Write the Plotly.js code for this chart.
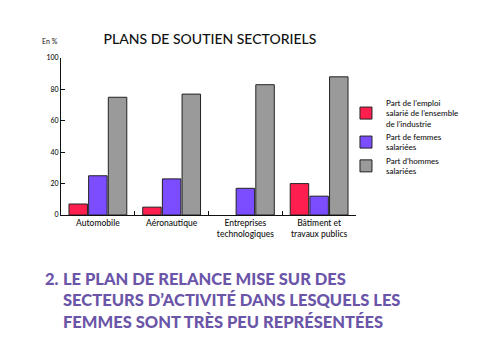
<!DOCTYPE html>
<html>
<head>
<meta charset="utf-8">
<script src="https://cdn.plot.ly/plotly-3.0.1.min.js"></script>
<style>html,body{margin:0;padding:0;background:#fff;}#chart{width:500px;height:345px;}</style>
</head>
<body>
<div id="chart"></div>
<script>
var categories = ["Automobile", "Aéronautique", "Entreprises<br>technologiques", "Bâtiment et<br>travaux publics"];
var seriesNames = ["Part de l’emploi<br>salarié de l’ensemble<br>de l’industrie", "Part de femmes<br>salariées", "Part d’hommes<br>salariées"];
var emploiIndustrie = [7, 5, null, 20];
var femmes = [25, 23, 17, 12];
var hommes = [75, 77, 83, 88];
var yTicks = [0, 20, 40, 60, 80, 100];
var colors = ["#ff1f4f", "#7b4dff", "#9a9a9a"];

var values = [emploiIndustrie, femmes, hommes];
var traces = values.map(function (v, i) {
  return {
    type: "bar",
    x: categories,
    y: v,
    name: seriesNames[i],
    marker: { color: colors[i], line: { color: "#222", width: 1 } },
    hoverinfo: "skip"
  };
});

var layout = {
  width: 500,
  height: 345,
  margin: { l: 61, r: 144, t: 58, b: 130 },
  paper_bgcolor: "#fff",
  plot_bgcolor: "#fff",
  barmode: "group",
  bargap: 0.2,
  bargroupgap: 0.06,
  font: { family: "Lato, 'Open Sans', sans-serif", color: "#111" },
  title: {
    text: "PLANS DE SOUTIEN SECTORIELS",
    font: { family: "Lato, sans-serif", size: 14, color: "#111", weight: 500 },
    x: 0.42, xanchor: "center", y: 0.888, yanchor: "middle"
  },
  xaxis: {
    showgrid: false, zeroline: false,
    showline: true, linecolor: "#111", linewidth: 1,
    ticks: "inside", tickson: "boundaries", ticklen: 4, tickcolor: "#111",
    tickfont: { size: 8.5, color: "#111", weight: 500 }
  },
  yaxis: {
    range: [0, 100], tickvals: yTicks,
    showgrid: false, zeroline: false,
    showline: true, linecolor: "#111", linewidth: 1,
    ticks: "inside", ticklen: 4, tickcolor: "#111",
    tickfont: { size: 7, color: "#111", weight: 500 }
  },
  legend: {
    x: 0.966, xanchor: "left", y: 0.79, yanchor: "top",
    bgcolor: "rgba(0,0,0,0)",
    font: { size: 8, color: "#111", weight: 500 },
    traceorder: "normal",
    tracegroupgap: 0,
    itemwidth: 30
  },
  annotations: [
    { xref: "paper", yref: "paper", x: -0.07, y: 1.11, xanchor: "left", yanchor: "middle",
      text: "En %", showarrow: false, font: { size: 7, color: "#111" } },
    { xref: "paper", yref: "paper", x: -0.062, y: -0.334, xanchor: "left", yanchor: "top", align: "left",
      text: "2.", showarrow: false,
      font: { family: "Lato, sans-serif", size: 16.5, color: "#6a55a8", weight: 900 } },
    { xref: "paper", yref: "paper", x: 0.0, y: -0.334, xanchor: "left", yanchor: "top", align: "left",
      text: "LE PLAN DE RELANCE MISE SUR DES<br>SECTEURS D’ACTIVITÉ DANS LESQUELS LES<br>FEMMES SONT TRÈS PEU REPRÉSENTÉES",
      showarrow: false,
      font: { family: "Lato, sans-serif", size: 16.5, color: "#6a55a8", weight: 900 } }
  ]
};

Plotly.newPlot("chart", traces, layout, { displayModeBar: false, staticPlot: true });
</script>
</body>
</html>
